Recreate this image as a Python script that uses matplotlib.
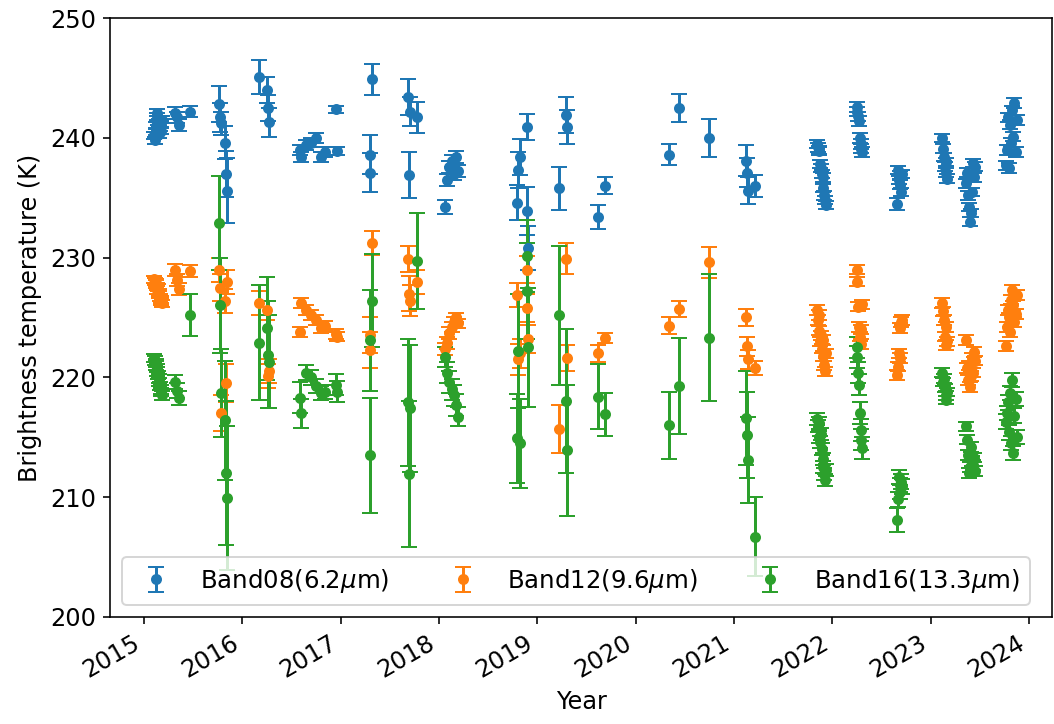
import numpy as np
import pandas as pd
import matplotlib
matplotlib.use('Agg')
import matplotlib.pyplot as plt
import matplotlib.dates as mdates

plt.rcParams['font.size'] = 12

# observation dates (shared by the three bands)
dates = [
    # early 2015
    '2015-02-08', '2015-02-10', '2015-02-12', '2015-02-15', '2015-02-17', '2015-02-19',
    '2015-02-22', '2015-02-24', '2015-02-26', '2015-03-01', '2015-03-03', '2015-03-05',
    '2015-03-08', '2015-04-25', '2015-05-02', '2015-05-09', '2015-06-20',
    # late 2015
    '2015-10-06', '2015-10-10', '2015-10-15', '2015-10-28', '2015-11-02', '2015-11-06',
    # 2016
    '2016-03-03', '2016-04-03', '2016-04-06', '2016-04-09',
    '2016-08-02', '2016-08-06', '2016-08-24', '2016-09-11', '2016-09-30', '2016-10-18',
    '2016-11-02', '2016-12-14', '2016-12-19',
    # 2017
    '2017-04-25', '2017-04-18', '2017-04-20',
    '2017-09-08', '2017-09-12', '2017-09-15', '2017-10-09',
    # 2018
    '2018-01-22', '2018-02-01', '2018-02-08', '2018-02-16', '2018-02-25', '2018-03-05',
    '2018-03-12',
    '2018-10-18', '2018-10-22', '2018-10-29', '2018-11-22', '2018-11-24', '2018-11-26',
    # 2019 - 2020
    '2019-03-24', '2019-04-18', '2019-04-20', '2019-08-15', '2019-09-11',
    '2020-05-04', '2020-06-10', '2020-09-28',
    # 2021
    '2021-02-16', '2021-02-19', '2021-02-22', '2021-03-21',
    '2021-11-05', '2021-11-08', '2021-11-11', '2021-11-14', '2021-11-17', '2021-11-20',
    '2021-11-23', '2021-11-26', '2021-11-29', '2021-12-02', '2021-12-05', '2021-12-08',
    # 2022
    '2022-04-01', '2022-04-04', '2022-04-07', '2022-04-10', '2022-04-13', '2022-04-16',
    '2022-04-19', '2022-04-22',
    '2022-08-30', '2022-09-02', '2022-09-05', '2022-09-08', '2022-09-11', '2022-09-14',
    '2022-09-17',
    # 2023
    '2023-02-14', '2023-02-17', '2023-02-20', '2023-02-23', '2023-02-26', '2023-03-01',
    '2023-03-04',
    '2023-05-12', '2023-05-16', '2023-05-20', '2023-05-24', '2023-05-28', '2023-06-01',
    '2023-06-05', '2023-06-09', '2023-06-13', '2023-06-17',
    '2023-10-08', '2023-10-12', '2023-10-16', '2023-10-20', '2023-10-24', '2023-10-28',
    '2023-11-01', '2023-11-05', '2023-11-09', '2023-11-13', '2023-11-17',
]

bt08 = [
    240.2, 239.8, 241.0, 240.5, 241.8, 242.1, 240.8, 240.3, 241.3, 240.9, 240.6, 241.1,
    241.5, 242.1, 241.7, 241.1, 242.2,
    242.8, 241.7, 241.2, 239.6, 237.0, 235.6,
    245.1, 244.0, 242.5, 241.3,
    239.0, 238.4, 239.4, 239.6, 240.0, 238.4, 238.8, 242.4, 238.9,
    244.9, 238.6, 237.1,
    243.4, 236.9, 242.2, 241.7,
    234.2, 236.5, 237.6, 238.1, 237.0, 238.4, 237.2,
    234.6, 237.3, 238.4, 240.9, 233.9, 230.8,
    235.8, 241.9, 240.9, 233.4, 236.0,
    238.6, 242.5, 240.0,
    238.1, 237.1, 235.6, 236.0,
    239.5, 239.2, 238.9, 239.0, 237.8, 237.5, 237.0, 236.7, 235.8, 235.2, 234.8, 234.4,
    242.6, 242.2, 241.8, 241.4, 240.0, 239.5, 239.1, 238.8,
    234.5, 237.3, 236.5, 236.9, 236.1, 235.5, 237.0,
    240.0, 239.1, 238.4, 237.6, 238.0, 237.1, 236.6,
    236.2, 237.1, 235.2, 234.2, 233.0, 233.7, 235.5, 237.9, 236.7, 237.6,
    237.7, 239.0, 241.7, 237.5, 241.1, 239.6, 242.3, 240.1, 242.9, 238.8, 241.5,
]
err08 = [
    0.3, 0.3, 0.3, 0.3, 0.3, 0.3, 0.3, 0.3, 0.3, 0.3, 0.3, 0.3,
    0.3, 0.5, 0.5, 0.5, 0.45,
    1.5, 1.2, 1.0, 1.4, 1.9, 2.7,
    1.4, 1.1, 1.1, 1.2,
    0.4, 0.4, 0.4, 0.4, 0.4, 0.4, 0.4, 0.3, 0.3,
    1.3, 1.6, 1.6,
    1.5, 1.9, 1.2, 1.3,
    0.6, 0.5, 0.5, 0.5, 0.5, 0.5, 0.5,
    1.5, 1.5, 1.5, 1.1, 2.0, 1.8,
    1.8, 1.5, 1.4, 1.0, 0.7,
    0.9, 1.2, 1.6,
    1.3, 1.2, 1.1, 0.9,
    0.35, 0.35, 0.35, 0.35, 0.35, 0.35, 0.35, 0.35, 0.35, 0.35, 0.35, 0.35,
    0.4, 0.4, 0.4, 0.4, 0.4, 0.4, 0.4, 0.4,
    0.5, 0.35, 0.35, 0.35, 0.35, 0.35, 0.35,
    0.35, 0.35, 0.35, 0.35, 0.35, 0.35, 0.35,
    0.35, 0.35, 0.35, 0.35, 0.35, 0.35, 0.35, 0.35, 0.35, 0.35,
    0.4, 0.4, 0.4, 0.4, 0.4, 0.4, 0.4, 0.4, 0.4, 0.4, 0.4,
]

bt12 = [
    228.2, 228.0, 227.8, 227.9, 227.6, 227.3, 227.5, 227.1, 226.9, 226.7, 226.5, 226.3,
    226.2, 229.0, 228.1, 227.4, 228.9,
    229.0, 227.5, 217.0, 226.4, 219.5, 228.0,
    226.2, 225.6, 220.1, 220.5,
    223.8, 226.2, 225.6, 225.2, 224.8, 224.1, 224.3, 223.6, 223.4,
    231.2, 223.5, 222.3,
    229.9, 227.0, 226.4, 228.0,
    222.4, 222.9, 223.7, 224.2, 224.6, 225.0, 224.5,
    226.9, 221.5, 222.0, 229.0, 225.8, 223.2,
    215.7, 229.9, 221.6, 222.0, 223.3,
    224.3, 225.7, 229.6,
    225.0, 222.6, 221.5, 220.8,
    225.6, 224.8, 225.2, 223.9, 223.0, 223.5, 222.4, 221.8, 223.1, 221.0, 220.5, 222.0,
    229.0, 228.0, 225.9, 224.2, 223.4, 222.8, 224.0, 226.1,
    220.2, 220.9, 222.0, 224.1, 221.6, 224.6, 224.8,
    226.2, 225.5, 224.8, 223.4, 224.2, 222.7, 223.0,
    223.1, 220.8, 219.8, 221.0, 219.2, 220.1, 221.6, 220.4, 222.1, 221.4,
    222.6, 224.2, 225.6, 225.0, 223.8, 226.5, 227.3, 226.0, 224.6, 225.3, 226.9,
]
err12 = [
    0.3, 0.3, 0.3, 0.3, 0.3, 0.3, 0.3, 0.3, 0.3, 0.3, 0.3, 0.3,
    0.3, 0.5, 0.5, 0.5, 0.5,
    1.0, 1.1, 1.5, 1.0, 1.6, 1.0,
    1.0, 0.8, 1.0, 1.0,
    0.4, 0.4, 0.4, 0.4, 0.4, 0.4, 0.4, 0.4, 0.4,
    1.0, 1.5, 1.5,
    1.1, 1.5, 1.3, 1.0,
    0.5, 0.5, 0.5, 0.4, 0.4, 0.4, 0.4,
    1.0, 1.3, 1.2, 1.1, 1.2, 1.2,
    2.0, 1.3, 1.1, 0.7, 0.4,
    0.7, 0.7, 1.3,
    0.7, 0.8, 0.8, 0.6,
    0.4, 0.4, 0.4, 0.4, 0.4, 0.4, 0.4, 0.4, 0.4, 0.4, 0.4, 0.4,
    0.4, 0.4, 0.4, 0.4, 0.4, 0.4, 0.4, 0.4,
    0.4, 0.4, 0.4, 0.4, 0.4, 0.4, 0.4,
    0.4, 0.4, 0.4, 0.4, 0.4, 0.4, 0.4,
    0.4, 0.4, 0.4, 0.4, 0.4, 0.4, 0.4, 0.4, 0.4, 0.4,
    0.4, 0.4, 0.4, 0.4, 0.4, 0.4, 0.4, 0.4, 0.4, 0.4, 0.4,
]

bt16 = [
    221.6, 221.4, 221.2, 221.0, 220.8, 220.5, 220.2, 219.9, 219.6, 219.3, 219.0, 218.8,
    218.5, 219.6, 218.9, 218.3, 225.2,
    232.9, 226.0, 218.7, 216.4, 212.0, 209.9,
    222.9, 224.1, 221.9, 221.3,
    218.3, 217.0, 220.4, 220.0, 219.3, 218.7, 218.8, 219.4, 218.8,
    226.4, 223.1, 213.5,
    217.9, 211.9, 217.4, 229.7,
    221.7, 220.4, 219.6, 219.0, 218.5, 217.7, 216.7,
    214.9, 222.2, 214.5, 230.1, 227.2, 222.5,
    225.2, 218.0, 213.9, 218.4, 216.9,
    216.0, 219.3, 223.3,
    216.6, 215.2, 213.1, 206.7,
    216.5, 215.9, 216.2, 215.0, 214.6, 215.3, 214.0, 213.2, 212.5, 211.9, 211.4, 212.3,
    222.5, 221.7, 220.4, 219.4, 217.0, 215.6, 214.8, 214.1,
    208.1, 209.8, 211.7, 210.4, 211.0, 211.3, 210.9,
    220.4, 219.6, 219.9, 219.1, 218.5, 218.1, 218.8,
    215.9, 214.8, 213.5, 212.0, 212.5, 214.2, 213.0, 212.7, 213.3, 212.2,
    216.3, 217.0, 217.9, 215.4, 218.7, 214.5, 219.8, 213.7, 216.8, 218.2, 215.0,
]
err16 = [
    0.35, 0.35, 0.35, 0.35, 0.35, 0.35, 0.35, 0.35, 0.35, 0.35, 0.35, 0.35,
    0.35, 0.6, 0.6, 0.6, 1.75,
    3.9, 4.0, 3.7, 5.0, 6.0, 6.0,
    4.8, 4.3, 4.5, 3.9,
    1.3, 1.2, 0.6, 0.6, 0.6, 0.6, 0.6, 0.9, 0.9,
    3.9, 4.2, 4.8,
    5.3, 6.1, 5.3, 4.0,
    0.8, 0.9, 0.9, 0.9, 0.9, 0.9, 0.8,
    3.7, 4.8, 3.7, 3.0, 4.0, 5.0,
    5.8, 6.0, 5.5, 2.7, 1.8,
    2.8, 4.0, 5.3,
    3.9, 3.6, 3.6, 3.3,
    0.5, 0.5, 0.5, 0.5, 0.5, 0.5, 0.5, 0.5, 0.5, 0.5, 0.5, 0.5,
    0.9, 0.9, 0.9, 0.9, 0.9, 0.9, 0.9, 0.9,
    1.0, 0.6, 0.6, 0.6, 0.6, 0.6, 0.6,
    0.35, 0.35, 0.35, 0.35, 0.35, 0.35, 0.35,
    0.4, 0.4, 0.4, 0.4, 0.4, 0.4, 0.4, 0.4, 0.4, 0.4,
    0.6, 0.6, 0.6, 0.6, 0.6, 0.6, 0.6, 0.6, 0.6, 0.6, 0.6,
]

labels = [r'Band08(6.2$\mu$m)', r'Band12(9.6$\mu$m)', r'Band16(13.3$\mu$m)']

t = pd.to_datetime(dates)

fig, ax = plt.subplots(figsize=(1054 / 144, 724 / 144), dpi=144)
fig.subplots_adjust(left=0.1044, right=0.9985, bottom=0.148, top=0.975)

for bt, err, lab in zip([bt08, bt12, bt16], [err08, err12, err16], labels):
    ax.errorbar(t, bt, yerr=err, fmt='o', ms=4.5, capsize=4, label=lab)

ax.set_ylim(200, 250)
ax.set_xlim(pd.Timestamp('2014-08-27'), pd.Timestamp('2024-03-29'))
ax.xaxis.set_major_locator(mdates.YearLocator())
ax.xaxis.set_major_formatter(mdates.DateFormatter('%Y'))
plt.setp(ax.get_xticklabels(), rotation=30, ha='right')

ax.set_xlabel('Year')
ax.set_ylabel('Brightness temperature (K)')
ax.legend(loc='lower left', ncol=3, prop={'size': 12.2})

fig.savefig('out.png', dpi=144)
